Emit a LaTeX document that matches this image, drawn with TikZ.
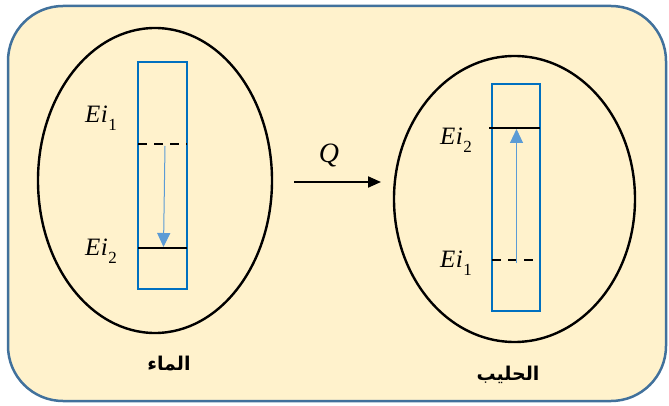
\documentclass[tikz,border=0pt]{standalone}
\usepackage{fontspec}
\newfontfamily\arabicfont[Script=Arabic]{DejaVu Sans}
\newfontfamily\lblfont{Liberation Serif}
\TeXXeTstate=1
\usetikzlibrary{shapes.geometric,arrows.meta}
\definecolor{bgfill}{HTML}{FFF2CC}
\definecolor{bgborder}{HTML}{41719C}
\definecolor{rectblue}{HTML}{0070C0}
\definecolor{arrblue}{HTML}{5B9BD5}
\newcommand{\eilabel}[1]{{\lblfont\fontsize{25}{28}\selectfont\itshape E\kern0.5pt i}\kern0.5pt\raisebox{-8pt}{\lblfont\fontsize{17}{20}\selectfont #1}}
\tikzset{
  oval/.style={ellipse, draw=black, line width=2.4pt, inner sep=0pt},
  levelbox/.style={rectangle, draw=rectblue, line width=2.5pt, inner sep=0pt},
  solidlevel/.style={draw=black, line width=2pt},
  dashlevel/.style={draw=black, line width=2pt, dash pattern=on 9pt off 7pt},
  transition/.style={draw=arrblue, line width=1pt, -{Triangle[length=14pt,width=13pt]}},
  lbl/.style={inner sep=0pt, anchor=base west},
  arlbl/.style={font=\arabicfont\bfseries\fontsize{19}{22}\selectfont, inner sep=0pt}
}
\begin{document}
\begin{tikzpicture}[x=1pt,y=-1pt]
\useasboundingbox (0,0) rectangle (669,406);
\draw[bgborder, fill=bgfill, line width=2.5pt, rounded corners=55pt] (8,6) rectangle (666,401);

% left part
\node[oval, minimum width=234pt, minimum height=305pt] (elA) at (155,180.5) {};
\node[levelbox, minimum width=49pt, minimum height=227pt] (boxA) at (162.5,175.5) {};
\coordinate (a1l) at (138,144); \coordinate (a1r) at (187,144);
\coordinate (a2l) at (138,248); \coordinate (a2r) at (187,248);
\draw[dashlevel] (a1l) -- (a1r);
\draw[solidlevel] (a2l) -- (a2r);
\coordinate (as) at (165,146); \coordinate (ae) at (163.5,247);
\draw[transition] (as) -- (ae);
\node[lbl] (ea1) at (85,123) {\eilabel{1}};
\node[lbl] (ea2) at (85,255) {\eilabel{2}};
\node[arlbl] (water) at (169,364) {\beginR الماء\endR};

% arrow Q
\coordinate (qs) at (294,182); \coordinate (qe) at (381,182);
\draw[line width=2pt, -{Triangle[length=13pt,width=11pt]}] (qs) -- (qe);
\node[font=\lblfont\fontsize{28}{32}\selectfont\itshape, inner sep=0pt, anchor=base] (q) at (329,163) {Q};

% right part
\node[oval, minimum width=241pt, minimum height=286pt] (elB) at (514.5,199) {};
\node[levelbox, minimum width=48pt, minimum height=227pt] (boxB) at (516,197.5) {};
\coordinate (b2l) at (489,128); \coordinate (b2r) at (540,128);
\coordinate (b1l) at (492,260); \coordinate (b1r) at (540,260);
\draw[solidlevel] (b2l) -- (b2r);
\draw[dashlevel] (b1l) -- (b1r);
\coordinate (bs) at (516.5,263); \coordinate (be) at (516.5,129);
\draw[transition] (bs) -- (be);
\node[lbl] (eb2) at (440,145) {\eilabel{2}};
\node[lbl] (eb1) at (440,267) {\eilabel{1}};
\node[arlbl] (milk) at (508,375) {\beginR الحليب\endR};
\end{tikzpicture}
\end{document}
